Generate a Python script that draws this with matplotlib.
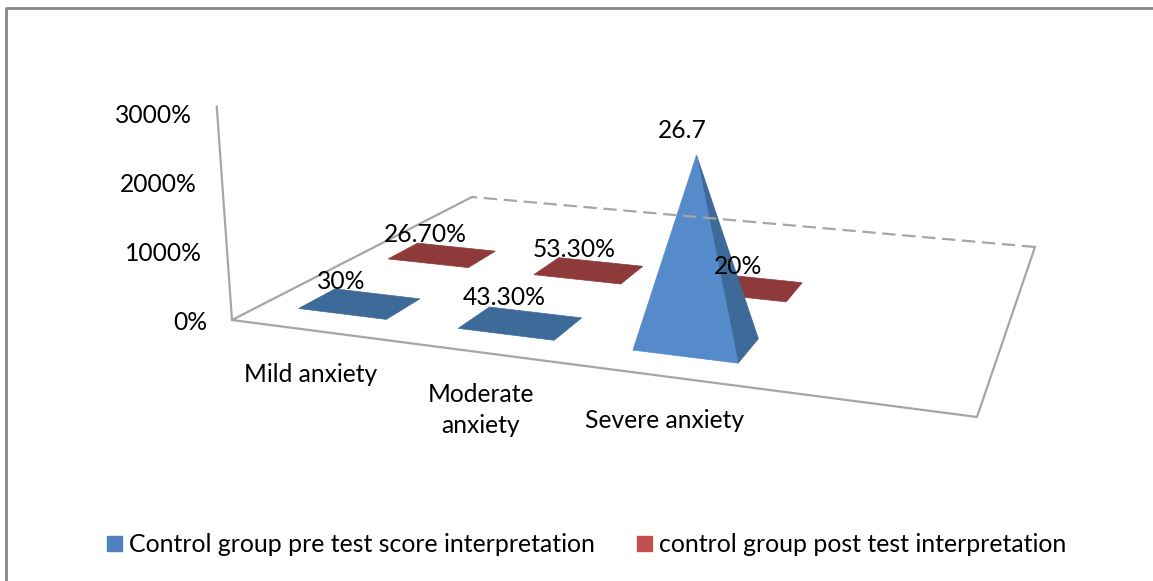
import numpy as np
import matplotlib
matplotlib.use('Agg')
import matplotlib.pyplot as plt
from matplotlib.patches import Patch, Polygon

categories = ['Mild anxiety', 'Moderate\nanxiety', 'Severe anxiety']
pre_test = [0.30, 0.433, 26.7]
post_test = [0.267, 0.533, 0.20]
pre_labels = ['30%', '43.30%', '26.7']
post_labels = ['26.70%', '53.30%', '20%']
y_ticks = [0, 10, 20, 30]
y_tick_labels = ['0%', '1000%', '2000%', '3000%']
pre_name = 'Control group pre test score interpretation'
post_name = 'control group post test interpretation'

plt.rcParams['font.family'] = ['Lato', 'DejaVu Sans']
FS = 17.7
GRID = '#a6a6a6'

# floor corners in pixels: front left, front right, back right, back left
src = [(0, 0), (4, 0), (4, 2), (0, 2)]
dst = [(232, 320), (977, 417), (1035, 247), (472, 197)]
A = []
b = []
for (u, v), (x, y) in zip(src, dst):
    A.append([u, v, 1, 0, 0, 0, -u * x, -v * x])
    A.append([0, 0, 0, u, v, 1, -u * y, -v * y])
    b += [x, y]
H = np.append(np.linalg.solve(np.array(A, float), np.array(b, float)), 1).reshape(3, 3)
VP = np.array([690.0, 6730.0])  # vertical lines meet far below the chart
LIFT = 0.00111


def project(u, v, h=0.0):
    p = H @ np.array([u, v, 1.0])
    p = p[:2] / p[2]
    return VP + (p - VP) * (1 + h * LIFT)


def pyramid(ax, u, v, value, light, dark):
    hw, hd = 0.28, 0.13
    fl = project(u - hw, v - hd)
    fr = project(u + hw, v - hd)
    br = project(u + hw, v + hd)
    bl = project(u - hw, v + hd)
    top = project(u, v, value)
    if value < 1:  # nearly flat, only the base shows
        ax.add_patch(Polygon([fl, fr, br, bl], color=dark, lw=0.5))
    else:
        ax.add_patch(Polygon([fr, br, top], color=dark, lw=0.5))
        ax.add_patch(Polygon([fl, fr, top], color=light, lw=0.5))
    return project(u, v), top


fig = plt.figure(figsize=(11.53, 5.81), dpi=100)
ax = fig.add_axes([0, 0, 1, 1])
ax.set_xlim(0, 1153)
ax.set_ylim(581, 0)
ax.axis('off')

# chart frame
ax.plot([6, 6, 1153], [581, 8, 8], color='#888888', lw=2)

# floor and value axis
corners = [project(*c) for c in src]
ax.plot(*zip(corners[3], corners[0], corners[1], corners[2]), color=GRID, lw=1.6)
ax.plot(*zip(corners[2], corners[3]), color=GRID, lw=1.6, ls=(0, (6, 3)))
ax.plot(*zip(project(0, 0), project(0, 0, y_ticks[-1])), color=GRID, lw=1.6)

for val, lab in zip(y_ticks, y_tick_labels):
    p = project(0, 0, val)
    ax.text(p[0] - 25, 322 - val * 6.87, lab, ha='right', va='center', fontsize=FS)

# back row first, the pyramid hides part of it
post_pts = []
for i, val in enumerate(post_test):
    post_pts.append(pyramid(ax, i + 0.5, 1.03, val, '#a0413e', '#8e3a3a'))
pre_pts = []
for i, val in enumerate(pre_test):
    pre_pts.append(pyramid(ax, i + 0.515, 0.33, val, '#558acb', '#3e6a9a'))

post_off = [(-17, -19), (-15, -17), (-9, -19)]
pre_off = [(-19, -20), (-16, -22), (-14, -25)]
for (base, top), lab, off in zip(post_pts, post_labels, post_off):
    ax.text(top[0] + off[0], top[1] + off[1], lab, ha='center', va='center', fontsize=FS)
for (base, top), lab, off in zip(pre_pts, pre_labels, pre_off):
    ax.text(top[0] + off[0], top[1] + off[1], lab, ha='center', va='center', fontsize=FS)

cat_pos = [(311, 374), (481, 410), (665, 421)]
for (x, y), lab in zip(cat_pos, categories):
    ax.text(x, y, lab, ha='center', va='center', fontsize=FS, linespacing=1.4)

handles = [Patch(color='#4f81bd', label=pre_name), Patch(color='#c0504d', label=post_name)]
ax.legend(handles=handles, ncol=2, frameon=False, fontsize=17.9, loc='center',
          bbox_to_anchor=(587 / 1153, 1 - 545 / 581), handlelength=0.58, handleheight=0.58,
          handletextpad=0.3, columnspacing=1.7)

fig.savefig('out.png', dpi=100)
